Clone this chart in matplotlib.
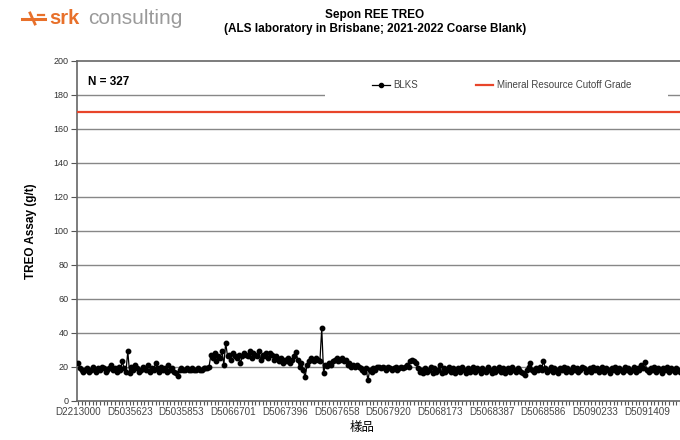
import matplotlib
matplotlib.use("Agg")
import matplotlib.pyplot as plt
from matplotlib.lines import Line2D
from matplotlib.patches import Rectangle
import numpy as np

# ---------------- data ----------------
blks = [
    22, 19, 18, 17, 18, 19, 17, 18, 20, 18, 17, 19, 18, 20, 19, 17, 18, 19, 21, 18,
    19, 17, 20, 18, 23, 19, 17, 29, 16, 20, 18, 21, 19, 17, 18, 20, 19, 18, 21, 17,
    19, 18, 22, 19, 17, 20, 18, 19, 17, 21, 18, 19, 17, 16, 14.5, 18, 19, 18, 18, 19,
    18, 18, 19, 18, 18, 19, 18, 18, 19, 19,
    19, 20, 27, 25, 28, 23, 26, 25, 29, 21,
    34, 26, 27, 24, 28, 26, 25, 27, 22, 26,
    28, 27, 26, 29, 25, 28, 27, 26, 29, 24,
    27, 26, 28, 25, 28, 27, 24, 26, 25, 23,
    25, 22, 24, 23, 25, 22, 24, 26, 28.5, 24,
    19.5, 22, 18, 13.7, 21, 23, 25, 24, 23, 25, 24, 23,
    42.5, 16, 21, 20.5, 22, 21, 23, 24,
    25, 23, 24, 25, 23, 24, 21, 22, 20, 21,
    19.5, 21, 20, 19, 18, 17, 19, 12, 18, 17,
    19, 18, 19.5, 20, 19, 20, 19, 18, 20, 19,
    18, 19, 20, 18, 19, 20, 19, 20, 21, 20,
    23, 24, 23, 22, 19, 17, 18, 16, 19, 17,
    18, 20, 16, 19, 17, 18, 21, 16, 19, 17,
    18, 20, 17, 19, 16, 18, 19, 17, 20, 18,
    16, 19, 17, 18, 20, 17, 19, 18, 16, 19,
    18, 17, 20, 18, 16, 19, 17, 18, 20, 17,
    19, 16, 18, 19, 17, 20, 18, 17, 19, 18,
    17, 16, 15, 18, 20, 22, 18, 17, 19, 18,
    20, 18, 23.5, 19, 17, 18, 20, 17, 19, 18,
    16, 19, 18, 20, 17, 19, 18, 17, 20, 18,
    19, 17, 18, 20, 19, 17, 18, 19, 17, 20,
    18, 19, 17, 18, 20, 17, 19, 18, 16, 19,
    18, 20, 17, 19, 18, 17, 20, 18, 19, 17,
    18, 20, 17, 19, 18, 21, 19, 22.5, 18, 17,
    19, 18, 20, 17, 19, 18, 16, 19, 18, 20,
    17, 19, 18, 17, 19, 18, 17,
]
cutoff_grade = 170
tick_every = 28
tick_labels = ["D2213000", "D5035623", "D5035853", "D5066701", "D5067396",
               "D5067658", "D5067920", "D5068173", "D5068387", "D5068586",
               "D5090233", "D5091409"]
y_ticks = [0, 20, 40, 60, 80, 100, 120, 140, 160, 180, 200]

# ---------------- figure ----------------
plt.rcParams['font.family'] = ['Liberation Sans', 'DejaVu Sans']
W, H = 680, 440
fig = plt.figure(figsize=(W / 100, H / 100), dpi=100)

def fx(px):
    return px / W

def fy(py):
    return 1 - py / H

ax_l, ax_r, ax_t, ax_b = 77, 681, 61, 400.5
ax = fig.add_axes([fx(ax_l), fy(ax_b), fx(ax_r - ax_l), (ax_b - ax_t) / H])

x = np.arange(len(blks))
n = len(blks)

grid_col = "#878787"
ax.set_ylim(0, 200)
ax.set_xlim(-0.5, n - 0.5)
ax.set_yticks(y_ticks)
ax.set_yticklabels([str(v) for v in y_ticks], fontsize=6.5, color="#333333")
for v in y_ticks[1:-1]:
    ax.axhline(v, color=grid_col, lw=1.0, zorder=1)

# white legend background covering gridline
ax.add_patch(Rectangle(((325 - ax_l) / (ax_r - ax_l), 1 - (100 - ax_t) / (ax_b - ax_t)),
                       (668 - 325) / (ax_r - ax_l), (100 - 72) / (ax_b - ax_t),
                       transform=ax.transAxes, facecolor="white", edgecolor="none",
                       zorder=2))

ax.axhline(cutoff_grade, color="#e8452a", lw=1.6, zorder=3,
           label="Mineral Resource Cutoff Grade")
ax.plot(x, blks, color="black", lw=0.9, marker="o", markersize=3.2,
        markerfacecolor="black", markeredgecolor="black", zorder=4, label="BLKS")

tick_pos = list(range(0, n, tick_every))[:len(tick_labels)]
ax.set_xticks(tick_pos)
ax.set_xticklabels(tick_labels, fontsize=7.1, color="#444444")
ax.set_xticks(np.arange(0, n, 2), minor=True)
ax.tick_params(axis="x", which="major", length=3, width=0.8, color="#555555", pad=2)
ax.tick_params(axis="x", which="minor", length=3, width=0.8, color="#555555")
ax.tick_params(axis="y", length=4, width=0.8, color="#555555", pad=2)

for s in ["left", "bottom", "top"]:
    ax.spines[s].set_color("#666666")
    ax.spines[s].set_linewidth(1.2)
ax.spines["right"].set_visible(False)

ax.set_ylabel("TREO Assay (g/t)", fontsize=8.5, fontweight="bold")
ax.yaxis.set_label_coords(-(ax_l - 37) / (ax_r - ax_l), 0.5)
ax.set_xlabel("樣品", fontsize=9, family=['Noto Sans CJK TC', 'DejaVu Sans'])
ax.xaxis.set_label_coords((362 - ax_l) / (ax_r - ax_l), -(421 - ax_b) / (ax_b - ax_t))

ax.text(0.018, 0.955, f"N = {n}", transform=ax.transAxes, fontsize=8.5,
        fontweight="bold", va="top", ha="left")

handles = [Line2D([], [], color="black", lw=0.9, marker="o", markersize=3),
           Line2D([], [], color="#e8452a", lw=1.6)]
ax.legend(handles, ["BLKS", "Mineral Resource Cutoff Grade"], ncol=2,
          loc="center left",
          bbox_to_anchor=((372 - ax_l) / (ax_r - ax_l), 1 - (85 - ax_t) / (ax_b - ax_t)),
          frameon=False, fontsize=7, handlelength=1.8, handletextpad=0.35,
          columnspacing=6.0, borderpad=0, borderaxespad=0, labelcolor="#444444")

# title
fig.text(fx(375), fy(15), "Sepon REE TREO", ha="center", va="center",
         fontsize=8.5, fontweight="bold")
fig.text(fx(375), fy(29), "(ALS laboratory in Brisbane; 2021-2022 Coarse Blank)",
         ha="center", va="center", fontsize=8.5, fontweight="bold")

# logo
orange = "#e8702a"
fig.add_artist(Line2D([fx(22), fx(45)], [fy(19), fy(19)], color=orange, lw=2.2))
fig.add_artist(Line2D([fx(30), fx(35)], [fy(13), fy(24)], color=orange, lw=2.0))
fig.add_artist(Line2D([fx(38), fx(44)], [fy(15), fy(15)], color=orange, lw=1.6))
fig.text(fx(49), fy(19), "srk", ha="left", va="center", fontsize=14.5,
         fontweight="bold", color=orange)
fig.text(fx(88), fy(19), "consulting", ha="left", va="center", fontsize=15,
         color="#9a9a9a")

fig.savefig("out.png", dpi=100)
